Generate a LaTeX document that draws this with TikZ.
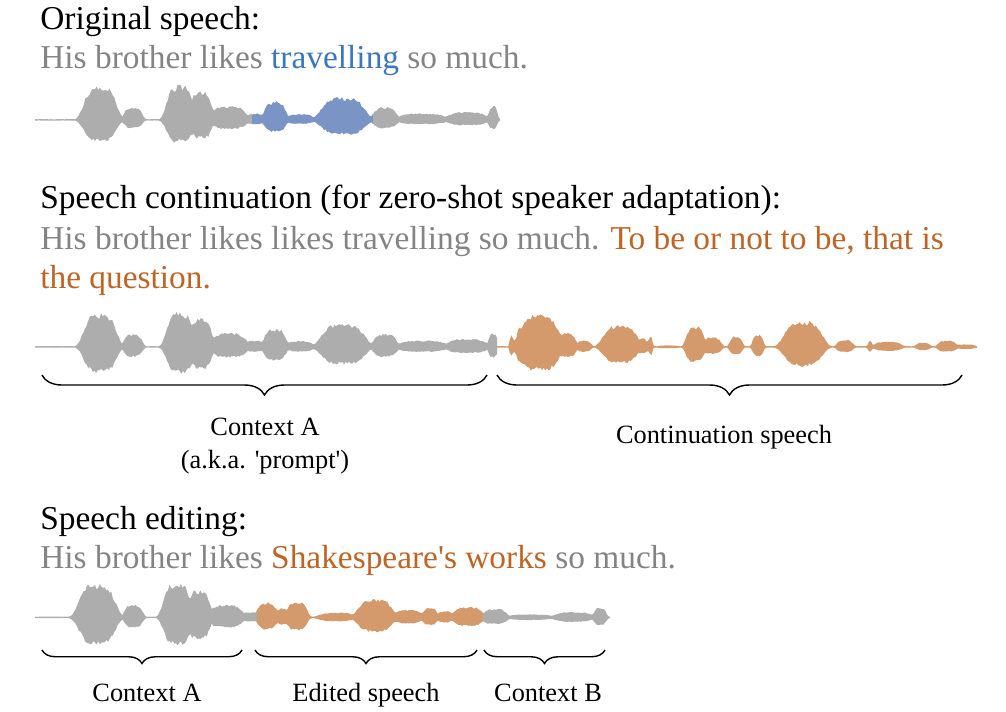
\documentclass[tikz,border=0pt]{standalone}
\usepackage{fontspec}
\setmainfont{Liberation Serif}
\usetikzlibrary{decorations.pathreplacing}

\definecolor{txtgray}{RGB}{132,132,132}
\definecolor{txtblue}{RGB}{58,118,196}
\definecolor{txtorange}{RGB}{192,100,35}
\definecolor{wavegray}{RGB}{173,173,173}
\definecolor{waveblue}{RGB}{123,148,198}
\definecolor{waveorange}{RGB}{213,154,108}

\tikzset{
    declare function={
        bump(\bx,\bc,\bh,\bw)=\bh*exp(-pow(min(abs(\bx-\bc)/\bw,2),4));
        enva(\bx)=max(0.8,bump(\bx,100,31,18),bump(\bx,133,12,10),bump(\bx,180,32,15),
            bump(\bx,201,27,12),bump(\bx,229,13,19),bump(\bx,255,6,10),bump(\bx,275,17,12),
            bump(\bx,300,5.5,15),bump(\bx,343,21,24),bump(\bx,385,12,13),bump(\bx,422,6,27),
            bump(\bx,467,7.5,22),bump(\bx,493,13,5));
        envb(\bx)=max(0.8,bump(\bx,511.5,12,2),bump(\bx,520,18,4),bump(\bx,539,30,22),
            bump(\bx,567,13,10),bump(\bx,584,6,8),bump(\bx,620,20,19),bump(\bx,643,8,5),
            bump(\bx,650.5,10,2.5),bump(\bx,668,1.5,12),bump(\bx,695,19,10),bump(\bx,712,9,10),
            bump(\bx,736,10,7),bump(\bx,758,11.5,6),bump(\bx,803,24,21),bump(\bx,845,6.5,9),
            bump(\bx,870,6,2.5),bump(\bx,888,5,15),bump(\bx,923,4,8),bump(\bx,947,6,10),
            bump(\bx,965,2.5,12));
        envc(\bx)=max(0.8,bump(\bx,97,31,20),bump(\bx,133.5,12,10),bump(\bx,177,32,15),
            bump(\bx,199,26,12),bump(\bx,226,12,18),bump(\bx,250,5,9),bump(\bx,267,14,11),
            bump(\bx,282,9,6),bump(\bx,297,15,11),bump(\bx,337,4.5,20),bump(\bx,375,17,19),
            bump(\bx,408,7,16),bump(\bx,430,9,8),bump(\bx,445,6,8),bump(\bx,468,10,16),
            bump(\bx,495,8,13),bump(\bx,530,3,24),bump(\bx,573,5,21),bump(\bx,600,9,7));
    },
    headtext/.style={anchor=base west, inner sep=0pt, font=\fontsize{19}{23}\selectfont},
    sentence/.style={headtext, text=txtgray},
    bracelabel/.style={anchor=base, inner sep=0pt, font=\fontsize{15}{18}\selectfont},
    bracedown/.style={decorate, decoration={brace, mirror, amplitude=#1}, line width=0.8pt}
}

% colour, envelope, centre line, from, to, lower/upper ratio
\newcommand{\wavepart}[6]{
    \pgfmathtruncatemacro\ns{(#5-#4)/1.6}
    \fill[#1] plot[domain=#4:#5, samples=\ns] (\x,{#3-#2(\x)*(1+0.1*rand)})
        -- plot[domain=#5:#4, samples=\ns] (\x,{#3+#6*#2(\x)*(1+0.1*rand)}) -- cycle;
}

\begin{document}
\begin{tikzpicture}[x=0.02cm, y=-0.02cm]
    \useasboundingbox (0,0) rectangle (1006,711);

    % original speech
    \node[headtext] (orighead) at (40,29) {Original speech:};
    \node[sentence] (origtext) at (40,68.5) {His brother likes \textcolor{txtblue}{travelling} so much.};
    \wavepart{wavegray}{enva}{120}{35}{252}{0.65}
    \wavepart{waveblue}{enva}{120}{252}{373}{0.65}
    \wavepart{wavegray}{enva}{120}{373}{500}{0.65}

    % speech continuation
    \node[headtext] (conthead) at (40,208) {Speech continuation (for zero-shot speaker adaptation):};
    \node[sentence] (conttext) at (40,249) {His brother likes likes travelling so much. \textcolor{txtorange}{To be or not to be, that is}};
    \node[sentence, text=txtorange] (conttext2) at (40,288) {the question.};
    \wavepart{wavegray}{enva}{347}{35}{497}{0.77}
    \wavepart{waveorange}{envb}{347}{497}{977}{0.75}

    \coordinate (promptS) at (42,375);
    \coordinate (promptE) at (487,375);
    \coordinate (contS) at (497,375);
    \coordinate (contE) at (962,375);
    \draw[bracedown=0.4cm] (promptS) -- (promptE);
    \draw[bracedown=0.4cm] (contS) -- (contE);
    \node[bracelabel] (promptlab) at (265,435) {Context A};
    \node[bracelabel] (promptlab2) at (265,468) {(a.k.a. \textquotesingle prompt\textquotesingle)};
    \node[bracelabel] (contlab) at (724,443) {Continuation speech};

    % speech editing
    \node[headtext] (edithead) at (40,529) {Speech editing:};
    \node[sentence] (edittext) at (40,568) {His brother likes \textcolor{txtorange}{Shakespeare\textquotesingle s works} so much.};
    \wavepart{wavegray}{envc}{617.5}{35}{257}{0.8}
    \wavepart{waveorange}{envc}{617.5}{257}{483}{0.8}
    \wavepart{wavegray}{envc}{617.5}{483}{610}{0.8}

    \coordinate (ctxaS) at (42,650);
    \coordinate (ctxaE) at (242,650);
    \coordinate (editS) at (255,650);
    \coordinate (editE) at (477,650);
    \coordinate (ctxbS) at (484,650);
    \coordinate (ctxbE) at (605,650);
    \draw[bracedown=0.27cm] (ctxaS) -- (ctxaE);
    \draw[bracedown=0.27cm] (editS) -- (editE);
    \draw[bracedown=0.27cm] (ctxbS) -- (ctxbE);
    \node[bracelabel] (ctxalab) at (147,701) {Context A};
    \node[bracelabel] (editlab) at (366,701) {Edited speech};
    \node[bracelabel] (ctxblab) at (548,701) {Context B};
\end{tikzpicture}
\end{document}
